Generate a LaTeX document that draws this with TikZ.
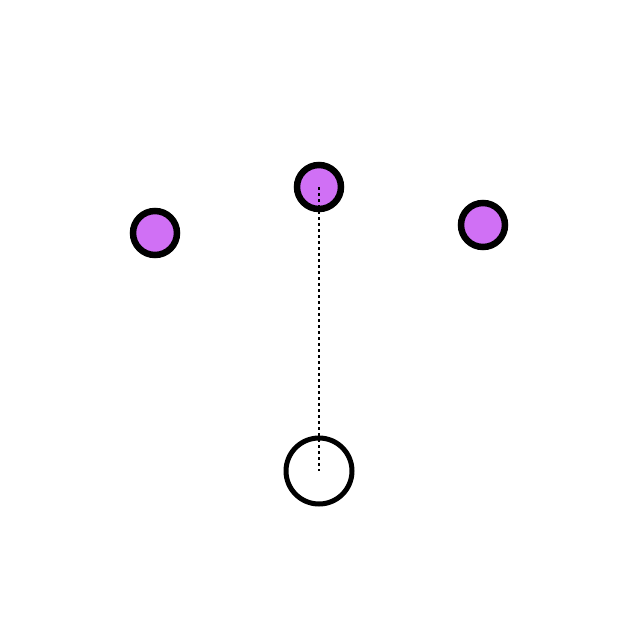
\documentclass[tikz,border=0pt]{standalone}
\definecolor{pur}{HTML}{D070F5}
\begin{document}
\begin{tikzpicture}[x=1pt,y=-1pt,
  filled/.style={circle,draw=black,line width=6.5pt,fill=pur,minimum size=44pt,inner sep=0pt},
  empty/.style={circle,draw=black,line width=5pt,fill=white,minimum size=66pt,inner sep=0pt}]
\useasboundingbox[fill=white] (0,0) rectangle (640,640);
\node[filled] (l) at (155,233) {};
\node[filled] (t) at (319,187) {};
\node[filled] (r) at (483,225) {};
\node[empty] (b) at (319,471) {};
\draw[line width=2pt,dash pattern=on 3pt off 3pt] (t.center) -- (b.center);
\end{tikzpicture}
\end{document}
